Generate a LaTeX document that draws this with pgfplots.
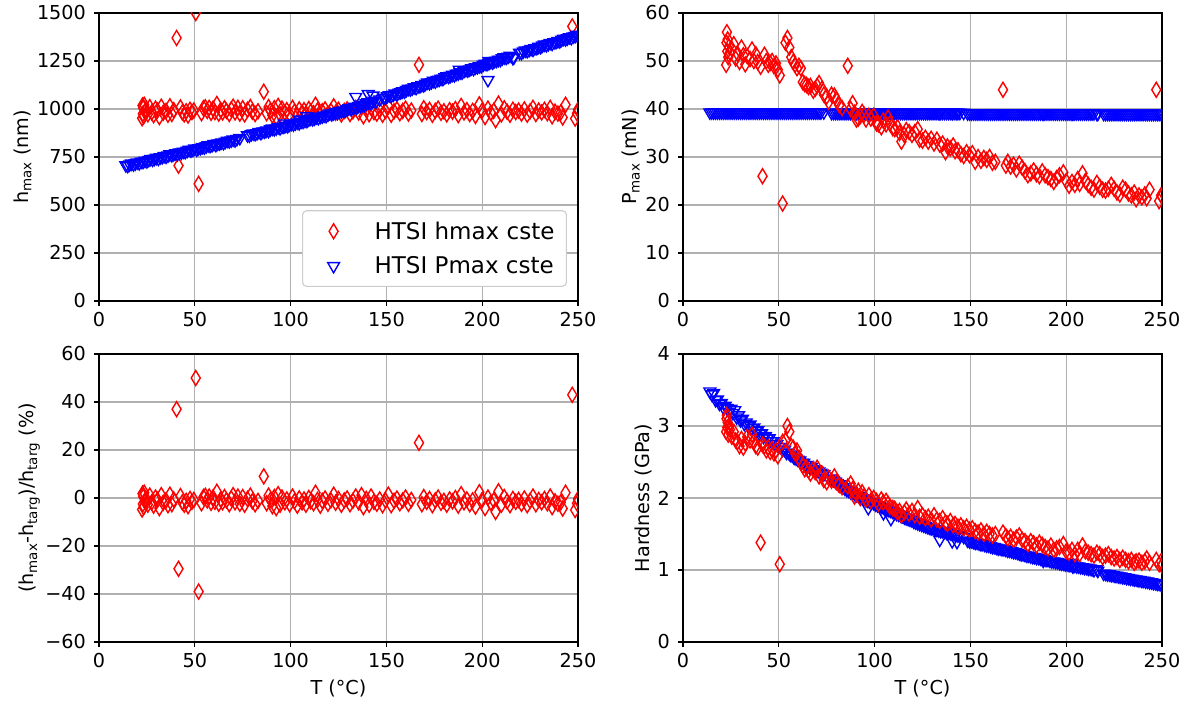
\documentclass[border=0pt]{standalone}
\usepackage{fontspec}
\setmainfont{DejaVu Sans}
\usepackage{pgfplots}
\usepackage{pgfplotstable}
\pgfplotsset{compat=1.18}
\definecolor{gridgray}{HTML}{B0B0B0}
\definecolor{legendgray}{HTML}{CCCCCC}
\newcommand\tickfont{\fontsize{19.2}{23}\selectfont}
\newcommand\labfont{\fontsize{19.2}{23}\selectfont}
\newcommand\legfont{\fontsize{23}{27}\selectfont}

\pgfplotstableread{
T h dev P H
22.5 952 -4.8 49.2 2.92
22.7 1018 1.8 53.8 3.10
22.9 975 -2.5 56.0 3.15
23.1 1005 0.5 52.0 2.98
23.3 962 -3.8 54.5 3.05
23.6 1022 2.2 50.8 2.88
24.0 985 -1.5 53.0 3.00
24.5 997 -0.3 51.8 2.95
25.5 972 -2.8 52.5 2.85
26.5 1010 1.0 53.5 2.92
27.5 982 -1.8 50.5 2.80
28.5 968 -3.2 51.5 2.78
29.5 1002 0.2 49.8 2.72
30.5 992 -0.8 52.8 2.82
31.5 958 -4.2 51.2 2.70
32.5 1012 1.2 49.3 2.76
33.5 980 -2.0 51.0 2.85
35.0 990 -1.0 50.4 2.80
36.0 970 -3.0 52.4 2.88
37.0 1014 1.4 50.0 2.78
38.0 974 -2.6 51.4 2.72
39.0 994 -0.6 49.8 2.70
40.5 1370 37.0 48.8 1.38
41.5 705 -29.5 26.0 2.74
42.5 1008 0.8 51.3 2.72
43.5 982 -1.8 50.0 2.66
44.5 972 -2.8 49.2 2.70
45.5 988 -1.2 49.6 2.64
46.5 966 -3.4 50.0 2.68
47.5 996 -0.4 48.9 2.62
48.5 984 -1.6 49.5 2.66
49.5 992 -0.8 48.2 2.58
50.5 1500 50.0 47.0 1.08
52.0 610 -39.0 20.3 2.78
53.5 978 -2.2 53.8 2.80
54.5 1004 0.4 54.8 3.00
55.5 1009 0.9 52.8 2.92
56.5 990 -1.0 50.8 2.72
57.5 1006 0.6 49.8 2.70
58.5 980 -2.0 49.2 2.62
59.5 1002 0.2 48.5 2.66
60.5 984 -1.6 49.0 2.56
61.5 1026 2.6 48.5 2.50
62.5 976 -2.4 45.6 2.45
63.5 994 -0.6 45.2 2.40
64.5 982 -1.8 45.0 2.42
65.5 1004 0.4 44.6 2.38
66.5 990 -1.0 44.8 2.34
68.0 974 -2.6 43.8 2.40
69.0 998 -0.2 44.2 2.36
70.0 1012 1.2 44.8 2.42
71.0 982 -1.8 45.4 2.30
72.5 1006 0.6 44.2 2.34
73.5 976 -2.4 43.0 2.25
75.0 1004 0.4 42.6 2.22
76.0 972 -2.8 41.5 2.28
77.5 996 -0.4 43.0 2.24
79.0 1010 1.0 42.8 2.30
80.0 986 -1.4 42.0 2.22
81.5 974 -2.6 40.8 2.18
83.0 988 -1.2 40.2 2.15
86.0 1090 9.0 49.0 2.16
87.5 978 -2.2 40.0 2.20
88.5 1010 1.0 41.2 2.12
89.5 992 -0.8 39.2 2.02
90.5 966 -3.4 37.8 2.06
91.5 1004 0.4 38.0 2.10
92.5 958 -4.2 38.5 2.00
93.5 1016 1.6 39.4 2.08
94.5 972 -2.8 38.8 2.02
95.5 1002 0.2 37.8 1.98
97.0 982 -1.8 38.6 2.04
98.0 994 -0.6 38.0 1.96
99.5 974 -2.6 38.6 2.00
101.0 1006 0.6 37.0 1.96
102.0 986 -1.4 36.8 1.92
103.5 968 -3.2 36.2 1.98
104.5 998 -0.2 37.6 1.94
106.0 982 -1.8 36.8 1.96
107.0 994 -0.6 38.2 1.92
108.0 972 -2.8 37.0 1.88
109.5 1000 0.0 36.0 1.86
110.5 986 -1.4 35.8 1.85
112.0 978 -2.2 36.2 1.80
113.0 1022 2.2 35.0 1.82
114.0 992 -0.8 33.2 1.76
115.5 968 -3.2 34.6 1.80
116.5 988 -1.2 35.6 1.84
118.0 998 -0.2 35.2 1.78
119.5 976 -2.4 34.6 1.82
121.0 990 -1.0 35.2 1.76
122.5 1014 1.4 35.8 1.86
123.5 980 -2.0 33.6 1.74
125.0 996 -0.4 33.4 1.76
126.5 972 -2.8 34.0 1.72
128.0 990 -1.0 33.2 1.74
129.5 998 -0.2 33.8 1.70
131.0 974 -2.6 32.8 1.76
132.5 988 -1.2 33.6 1.70
134.0 1006 0.6 32.6 1.68
135.5 982 -1.8 32.8 1.72
137.0 1012 1.2 31.0 1.66
138.0 962 -3.8 32.2 1.64
139.5 996 -0.4 31.8 1.68
141.0 972 -2.8 32.4 1.62
142.0 1006 0.6 31.2 1.64
143.5 984 -1.6 31.4 1.60
145.0 976 -2.4 30.6 1.62
146.5 994 -0.6 30.2 1.58
148.0 970 -3.0 31.0 1.60
149.5 990 -1.0 30.4 1.56
151.0 1014 1.4 30.8 1.58
152.5 970 -3.0 29.0 1.54
154.0 988 -1.2 30.0 1.52
155.5 998 -0.2 29.2 1.55
157.0 978 -2.2 29.8 1.50
158.5 990 -1.0 29.4 1.53
160.0 1002 0.2 30.0 1.50
161.5 976 -2.4 28.8 1.48
163.0 992 -0.8 29.0 1.50
167.0 1230 23.0 44.0 1.52
168.5 974 -2.6 28.2 1.47
169.5 1004 0.4 29.0 1.44
171.0 984 -1.6 28.0 1.46
172.5 996 -0.4 28.4 1.42
174.0 970 -3.0 27.4 1.45
175.5 990 -1.0 28.6 1.48
177.0 1002 0.2 27.8 1.42
178.5 980 -2.0 27.0 1.40
180.0 988 -1.2 26.2 1.36
181.5 972 -2.8 26.6 1.40
183.0 994 -0.6 27.2 1.37
184.5 986 -1.4 26.4 1.34
186.0 1000 0.0 26.0 1.38
187.5 968 -3.2 27.0 1.35
189.0 1016 1.6 26.2 1.32
190.5 982 -1.8 25.8 1.30
192.0 994 -0.6 25.4 1.34
193.5 974 -2.6 24.8 1.28
195.0 990 -1.0 25.6 1.30
196.5 964 -3.6 26.2 1.32
198.5 1024 2.4 26.8 1.36
200.0 992 -0.8 25.0 1.26
201.5 958 -4.2 24.0 1.24
203.0 1002 0.2 24.8 1.28
204.5 980 -2.0 24.2 1.22
206.0 990 -1.0 25.4 1.28
207.0 942 -5.8 24.4 1.22
208.5 1028 2.8 26.6 1.34
210.0 972 -2.8 25.0 1.26
211.5 1004 0.4 24.2 1.24
213.0 986 -1.4 23.6 1.22
214.5 970 -3.0 23.2 1.20
216.0 996 -0.4 24.6 1.24
217.5 984 -1.6 23.8 1.22
219.0 992 -0.8 23.2 1.18
220.5 976 -2.4 23.0 1.20
222.0 998 -0.2 23.4 1.22
223.5 970 -3.0 24.2 1.18
225.0 988 -1.2 23.4 1.16
226.5 1006 0.6 22.6 1.18
228.0 974 -2.6 22.2 1.14
229.5 992 -0.8 23.6 1.17
231.0 982 -1.8 23.2 1.14
232.5 996 -0.4 22.4 1.12
234.0 978 -2.2 22.0 1.14
235.5 1006 0.6 22.6 1.10
236.5 962 -3.8 21.2 1.12
238.0 986 -1.4 22.0 1.13
239.5 976 -2.4 21.6 1.10
241.0 982 -1.8 22.2 1.12
242.0 956 -4.4 21.4 1.16
243.5 1022 2.2 23.2 1.10
247.0 1430 43.0 44.0 1.14
248.5 950 -5.0 20.8 1.08
249.5 978 -2.2 22.0 1.12
250.0 996 -0.4 21.8 1.06
}\redtab

\pgfplotstableread{
T h P H
14 707 39.3 3.48
15 704 39.3 3.44
16 711 39.3 3.46
17 716 39.3 3.36
18 712 39.3 3.37
19 717 39.3 3.31
20 722 39.3 3.32
21 718 39.3 3.26
22 725 39.3 3.28
23 725 39.3 3.25
24 731 39.3 3.20
25 728 39.3 3.24
26 735 39.3 3.18
27 740 39.3 3.22
28 736 39.3 3.12
29 741 39.3 3.15
30 746 39.3 3.08
31 741 39.3 3.10
32 749 39.3 3.03
33 749 39.3 3.05
34 755 39.3 3.00
35 752 39.3 3.02
36 758 39.3 2.97
37 764 39.3 2.98
38 760 39.3 2.93
39 765 39.3 2.94
40 770 39.3 2.89
41 765 39.3 2.90
42 773 39.3 2.85
43 773 39.3 2.86
44 778 39.3 2.83
45 776 39.3 2.83
46 782 39.3 2.79
47 788 39.3 2.79
48 784 39.3 2.75
49 788 39.3 2.75
50 794 39.3 2.71
51 789 39.3 2.71
52 796 39.3 2.67
53 797 39.3 2.67
54 802 39.3 2.63
55 800 39.3 2.63
56 806 39.3 2.60
57 811 39.3 2.59
58 808 39.3 2.56
59 812 39.3 2.55
60 818 39.3 2.53
61 813 39.3 2.52
62 820 39.3 2.49
63 821 39.3 2.49
64 826 39.3 2.46
65 823 39.3 2.46
66 830 39.3 2.43
67 835 39.3 2.43
68 832 39.3 2.40
69 836 39.3 2.40
70 841 39.3 2.38
71 837 39.3 2.37
72 844 39.3 2.35
73.5 849 39.3 2.33
77.5 863 39.2 2.27
78.5 862 39.2 2.25
79.5 869 39.2 2.23
80.5 873 39.2 2.21
81.5 870 39.2 2.19
82.5 874 39.2 2.17
83.5 880 39.2 2.15
84.5 875 39.2 2.13
85.5 883 39.2 2.11
86.5 883 39.2 2.10
87.5 888 39.2 2.08
88.5 886 39.2 2.07
89.5 894 39.2 2.06
90.5 898 39.2 2.04
91.5 895 39.2 2.03
92.5 899 39.2 2.01
93.5 905 39.2 2.00
94.5 900 39.2 1.99
95.5 908 39.2 1.97
96.5 908 39.2 1.96
97.5 913 39.2 1.95
98.5 911 39.2 1.94
99.5 919 39.2 1.93
100.5 923 39.2 1.91
101.5 920 39.2 1.90
102.5 925 39.2 1.89
103.5 930 39.2 1.88
104.5 926 39.2 1.87
105.5 934 39.2 1.85
106.5 934 39.2 1.84
107.5 939 39.2 1.83
108.5 938 39.2 1.82
109.5 945 39.2 1.81
110.5 950 39.2 1.79
111.5 947 39.2 1.78
112.5 951 39.2 1.77
113.5 957 39.2 1.76
114.5 953 39.2 1.75
115.5 960 39.2 1.73
116.5 961 39.2 1.72
117.5 966 39.2 1.71
118.5 964 39.2 1.70
119.5 972 39.2 1.69
120.5 977 39.2 1.67
121.5 973 39.2 1.66
122.5 978 39.2 1.65
123.5 984 39.2 1.64
124.5 979 39.2 1.63
125.5 987 39.2 1.62
126.5 988 39.2 1.61
127.5 992 39.2 1.60
128.5 991 39.2 1.59
129.5 999 39.2 1.58
130.5 1004 39.2 1.58
131.5 1001 39.2 1.57
132.5 1006 39.2 1.56
133.5 1012 39.2 1.55
134.5 1008 39.2 1.54
135.5 1016 39.2 1.54
136.5 1017 39.2 1.53
137.5 1022 39.2 1.52
138.5 1021 39.2 1.52
139.5 1030 39.2 1.51
140.5 1035 39.2 1.50
141.5 1032 39.2 1.50
142.5 1037 39.2 1.49
143.5 1043 39.2 1.48
144.5 1039 39.2 1.48
146.5 1050 39.2 1.46
148.5 1059 39.1 1.41
149.5 1058 39.1 1.40
150.5 1067 39.1 1.40
151.5 1072 39.1 1.39
152.5 1069 39.1 1.38
153.5 1074 39.1 1.38
154.5 1081 39.1 1.37
155.5 1077 39.1 1.36
156.5 1085 39.1 1.36
157.5 1087 39.1 1.35
158.5 1092 39.1 1.34
159.5 1091 39.1 1.34
160.5 1099 39.1 1.33
161.5 1105 39.1 1.32
162.5 1102 39.1 1.32
163.5 1107 39.1 1.31
164.5 1114 39.1 1.30
165.5 1110 39.1 1.30
166.5 1118 39.1 1.29
167.5 1119 39.1 1.29
168.5 1125 39.1 1.28
169.5 1124 39.1 1.27
170.5 1132 39.1 1.27
171.5 1138 39.1 1.26
172.5 1135 39.1 1.25
173.5 1140 39.1 1.25
174.5 1147 39.1 1.24
175.5 1143 39.1 1.23
176.5 1151 39.1 1.22
177.5 1152 39.1 1.22
178.5 1158 39.1 1.21
179.5 1157 39.1 1.20
180.5 1165 39.1 1.20
181.5 1171 39.1 1.19
182.5 1168 39.1 1.18
183.5 1173 39.1 1.18
184.5 1179 39.1 1.17
185.5 1176 39.1 1.17
186.5 1184 39.1 1.16
187.5 1185 39.1 1.15
188.5 1191 39.1 1.15
189.5 1190 39.1 1.14
190.5 1198 39.1 1.14
191.5 1203 39.1 1.13
192.5 1201 39.1 1.12
193.5 1206 39.1 1.12
194.5 1212 39.1 1.11
195.5 1209 39.1 1.11
196.5 1217 39.1 1.10
197.5 1218 39.1 1.09
198.5 1223 39.1 1.09
199.5 1223 39.1 1.08
200.5 1231 39.1 1.08
201.5 1236 39.1 1.07
202.5 1234 39.1 1.07
203.5 1239 39.1 1.06
204.5 1245 39.1 1.06
205.5 1242 39.1 1.05
206.5 1250 39.1 1.05
207.5 1251 39.1 1.04
208.5 1256 39.1 1.04
209.5 1256 39.1 1.03
210.5 1264 39.1 1.03
211.5 1269 39.1 1.02
212.5 1267 39.1 1.02
213.5 1272 39.1 1.01
214.5 1278 39.1 1.00
216.5 1268 39.0 0.99
219.5 1293 39.0 0.95
220.5 1292 39.0 0.95
221.5 1300 39.0 0.94
222.5 1305 39.0 0.94
223.5 1302 39.0 0.93
224.5 1307 39.0 0.93
225.5 1313 39.0 0.92
226.5 1309 39.0 0.92
227.5 1317 39.0 0.91
228.5 1318 39.0 0.91
229.5 1324 39.0 0.90
230.5 1323 39.0 0.90
231.5 1331 39.0 0.89
232.5 1336 39.0 0.89
233.5 1333 39.0 0.88
234.5 1338 39.0 0.88
235.5 1344 39.0 0.87
236.5 1340 39.0 0.87
237.5 1348 39.0 0.86
238.5 1349 39.0 0.86
239.5 1354 39.0 0.85
240.5 1353 39.0 0.85
241.5 1361 39.0 0.84
242.5 1366 39.0 0.84
243.5 1363 39.0 0.83
244.5 1368 39.0 0.83
245.5 1374 39.0 0.82
246.5 1370 39.0 0.82
247.5 1378 39.0 0.81
248.5 1380 39.0 0.81
249.5 1385 39.0 0.80
250.0 1387 39.0 0.79
96.7 925 39.2 1.86
104.6 945 39.2 1.79
108.5 962 39.2 1.71
134.0 1063 39.2 1.42
140.5 1078 39.2 1.40
143.0 1070 39.2 1.39
188.0 1205 39.1 1.13
203.0 1151 39.1 1.10
203.5 1250 39.1 1.05
216.0 1266 39.0 1.01
}\blutab

\pgfplotsset{
  panel/.style={
    scale only axis, width=479pt, height=288pt,
    xmin=0, xmax=250, xtick={0,50,100,150,200,250},
    grid=major, grid style={draw=gridgray, line width=1.1pt},
    axis line style={line width=1.1pt},
    tick style={black, line width=1.1pt},
    major tick length=4.9pt, tick align=outside, tick pos=left,
    clip marker paths=true,
    tick label style={font=\tickfont},
    label style={font=\labfont},
    /pgf/number format/assume math mode=true,
    /pgf/number format/1000 sep={},
    scaled ticks=false,
    xticklabel style={inner sep=0pt, anchor=north, yshift=-6pt},
    yticklabel style={inner sep=0pt, anchor=east, xshift=-8pt},
  },
  redm/.style={only marks, color=red, mark=diamond, mark size=7.5pt,
    mark options={xscale=0.8, line width=1.4pt, sharp corners}},
  blum/.style={only marks, color=blue, mark=triangle, mark size=6.8pt,
    mark options={rotate=180, line width=1.4pt, sharp corners}},
}

\begin{document}
\begin{tikzpicture}
\useasboundingbox (0,0) rectangle (1191pt,704pt);

% top left
\begin{axis}[panel, at={(99pt,403pt)}, anchor=south west,
  ymin=0, ymax=1500, ytick={0,250,500,750,1000,1250,1500},
  ylabel={h\textsubscript{max} (nm)},
  ylabel style={at={(axis description cs:-0.1405,0.5)}, anchor=south, inner sep=0pt},
  legend cell align=left,
  legend style={at={(0.977,0.049)}, anchor=south east, draw=legendgray,
    line width=1.1pt, rounded corners=4pt, fill=white, font=\legfont,
    inner xsep=10pt, inner ysep=9pt, row sep=12pt, nodes={inner sep=2pt}},
  legend image code/.code={\path[draw=none, fill=none] (0pt,-8pt) rectangle (60pt,8pt);
    \draw[sharp corners, mark repeat=2, mark phase=2, #1] plot coordinates {(0pt,0pt) (21pt,0pt) (42pt,0pt)};},
]
\addplot[redm] table[x=T, y=h] {\redtab};
\addlegendentry{HTSI hmax cste}
\addplot[blum] table[x=T, y=h] {\blutab};
\addlegendentry{HTSI Pmax cste}
\end{axis}

% top right
\begin{axis}[panel, at={(683pt,403pt)}, anchor=south west,
  ymin=0, ymax=60, ytick={0,10,20,30,40,50,60},
  ylabel={P\textsubscript{max} (mN)},
  ylabel style={at={(axis description cs:-0.0898,0.5)}, anchor=south, inner sep=0pt},
]
\addplot[blum] table[x=T, y=P] {\blutab};
\addplot[redm] table[x=T, y=P] {\redtab};
\end{axis}

% bottom left
\begin{axis}[panel, at={(99pt,62pt)}, anchor=south west,
  ymin=-60, ymax=60, ytick={-60,-40,-20,0,20,40,60},
  yticklabels={−60,−40,−20,0,20,40,60},
  ylabel={(h\textsubscript{max}-h\textsubscript{targ})/h\textsubscript{targ} (\%)},
  ylabel style={at={(axis description cs:-0.123,0.5)}, anchor=south, inner sep=0pt},
  xlabel={T (°C)},
  xlabel style={at={(axis description cs:0.5,-0.132)}, anchor=north, inner sep=0pt},
]
\addplot[redm] table[x=T, y=dev] {\redtab};
\end{axis}

% bottom right
\begin{axis}[panel, at={(683pt,62pt)}, anchor=south west,
  ymin=0, ymax=4, ytick={0,1,2,3,4},
  ylabel={Hardness (GPa)},
  ylabel style={at={(axis description cs:-0.0643,0.5)}, anchor=south, inner sep=0pt},
  xlabel={T (°C)},
  xlabel style={at={(axis description cs:0.5,-0.132)}, anchor=north, inner sep=0pt},
]
\addplot[blum] table[x=T, y=H] {\blutab};
\addplot[redm] table[x=T, y=H] {\redtab};
\end{axis}
\end{tikzpicture}
\end{document}
